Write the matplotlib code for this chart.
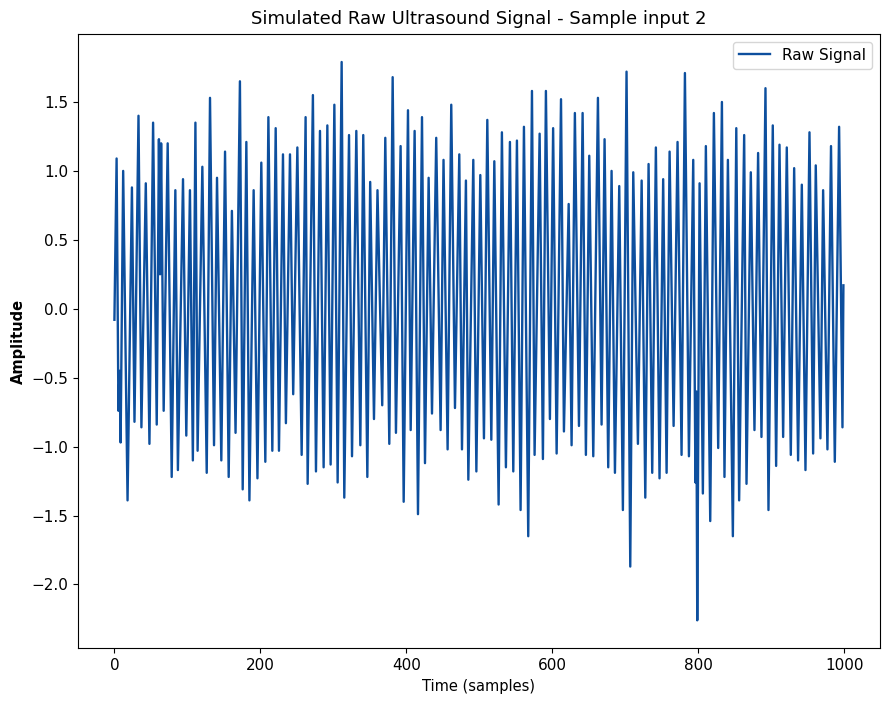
import matplotlib.pyplot as plt

# extrema of the raw trace (sample index, amplitude)
time_samples = [
    0, 3, 5.5, 7, 8.5, 12, 18, 24, 27.5, 33, 37, 43, 48, 53, 58, 61, 62.5, 64, 67.5,
    73, 78.5, 83.5, 87, 94, 98.5, 103.5, 107.5,
    111, 114, 120.5, 126.5, 131, 136.5, 140.6, 146.5, 151.6, 156.6, 161, 166, 172,
    175.8, 180.8, 185, 190.8, 196, 201.3, 206.8, 211, 216.4, 221, 225.5, 231,
    235, 240.6, 245, 250.7, 256.6, 262, 264.8, 272, 276.2, 281.7, 286.7, 291.8,
    296.3, 301.4, 305.9, 311.4, 315, 321.5, 325.6, 331.5, 337, 341, 346.6, 350.5,
    355.7, 360.5,
    367, 371.2, 376.7, 381.3, 385.8, 392.2, 396.4, 402.3, 406, 411.4, 416, 421.5,
    425.6, 430.6, 435.2, 441, 447, 451, 456.6, 461.6, 466.7, 472.6, 476.3, 481.7, 485,
    491.8, 496, 501.4, 506.4, 511, 516.5, 520.6, 526.5, 531, 536.5, 542, 546.6,
    551.6, 556.6, 561.2, 567.1, 572.2, 575.8, 582.7, 587.2, 591.3, 596.8, 601.2,
    606, 612, 616, 622.5, 626.5, 631, 636.6, 641.6, 646.1, 650.7, 656.2, 662.6,
    667.6, 671.7, 676.7, 681.3, 685.9, 691.8, 696.8, 701.8, 706.9, 711, 717.4,
    722.5, 727.5, 732,
    737, 742, 747, 752, 756.7, 760.8, 766.3, 771.7, 777.2, 781.8, 787.3, 793.2,
    796.2, 797.5, 798.7, 801.9, 806.4, 810.5, 816.5, 821.5, 827.4, 832.5, 836,
    840.7, 847.5, 852.2,
    856.1, 863, 866.2, 872.1, 877.1, 882.1, 886.7, 892.2, 896.3, 902.2, 906.8,
    911.4, 916.4, 921.4, 926.9, 931.5, 936.9, 942, 947, 952.5, 957.5, 961.1, 967.5,
    971.2, 977.1, 982, 987.2, 993.1, 997.7, 999,
]
amplitude = [
    -0.08, 1.09, -0.74, -0.45, -0.97, 1.00, -1.39, 0.88, -0.82, 1.40, -0.86, 0.91,
    -0.98, 1.35, -0.84, 1.23, 0.25, 1.20, -0.74,
    1.20, -1.22, 0.86, -1.17, 0.94, -0.92, 0.86, -1.10,
    1.35, -1.03, 1.03, -1.19, 1.53, -0.99, 0.95, -1.10, 1.14, -1.22, 0.71, -0.90, 1.65,
    -1.31, 1.21, -1.39, 0.86, -1.23, 1.06, -1.11, 1.39, -1.03, 1.31, -1.03, 1.12,
    -0.83, 1.12, -0.62, 1.17, -1.06, 1.39, -1.27, 1.55, -1.18, 1.29, -1.15, 1.33,
    -1.13, 1.48, -1.26, 1.79, -1.37, 1.26, -1.07, 1.29, -0.99, 1.26, -1.22, 0.92,
    -0.80, 0.86,
    -0.70, 1.24, -0.98, 1.68, -0.90, 1.18, -1.40, 1.44, -0.88, 1.29, -1.49, 1.39,
    -1.12, 0.95, -0.76, 1.24, -0.88, 1.08, -1.02, 1.48, -0.72, 1.12, -1.02, 0.93, -1.24,
    1.08, -1.18, 0.97, -0.94, 1.37, -0.95, 1.07, -1.42, 1.28, -1.15, 1.21, -1.18,
    1.22, -1.46, 1.32, -1.65, 1.58, -1.06, 1.27, -1.09, 1.58, -0.80, 1.31,
    -1.05, 1.52, -0.89, 0.76, -0.99, 1.42, -0.85, 1.42, -1.06, 1.11, -1.07, 1.53,
    -0.84, 1.23, -1.15, 1.00, -1.19, 0.89, -1.46, 1.72, -1.87, 0.99, -0.98,
    0.93, -1.37, 1.05,
    -1.19, 1.17, -1.23, 0.94, -1.19, 1.14, -0.85, 1.21, -1.06, 1.71, -1.07, 1.08,
    -1.26, -0.60, -2.26, 0.91, -1.34, 1.18, -1.54, 1.42, -1.01, 1.50, -1.22,
    1.08, -1.65, 1.31,
    -1.39, 1.26, -1.27, 0.99, -0.88, 1.13, -0.93, 1.60, -1.46, 1.33, -1.14,
    1.19, -0.93, 1.17, -1.06, 1.02, -1.10, 0.90, -1.17, 1.28, -1.05, 1.04, -0.94,
    0.86, -1.02, 1.18, -1.11, 1.32, -0.86, 0.17,
]

fig = plt.figure(figsize=(8.91, 7.10), dpi=100)
ax = fig.add_axes([0.0875, 0.087, 0.9, 0.865])

ax.plot(time_samples, amplitude, color='#0d4f9e', linewidth=1.7, label='Raw Signal')

ax.set_title('Simulated Raw Ultrasound Signal - Sample input 2', fontsize=13, pad=7)
ax.set_xlabel('Time (samples)', fontsize=10.5)
ax.set_ylabel('Amplitude', fontsize=10.5, fontweight='bold')
ax.tick_params(labelsize=11)
ax.legend(loc='upper right', fontsize=11)

fig.savefig('out.png', dpi=100)
